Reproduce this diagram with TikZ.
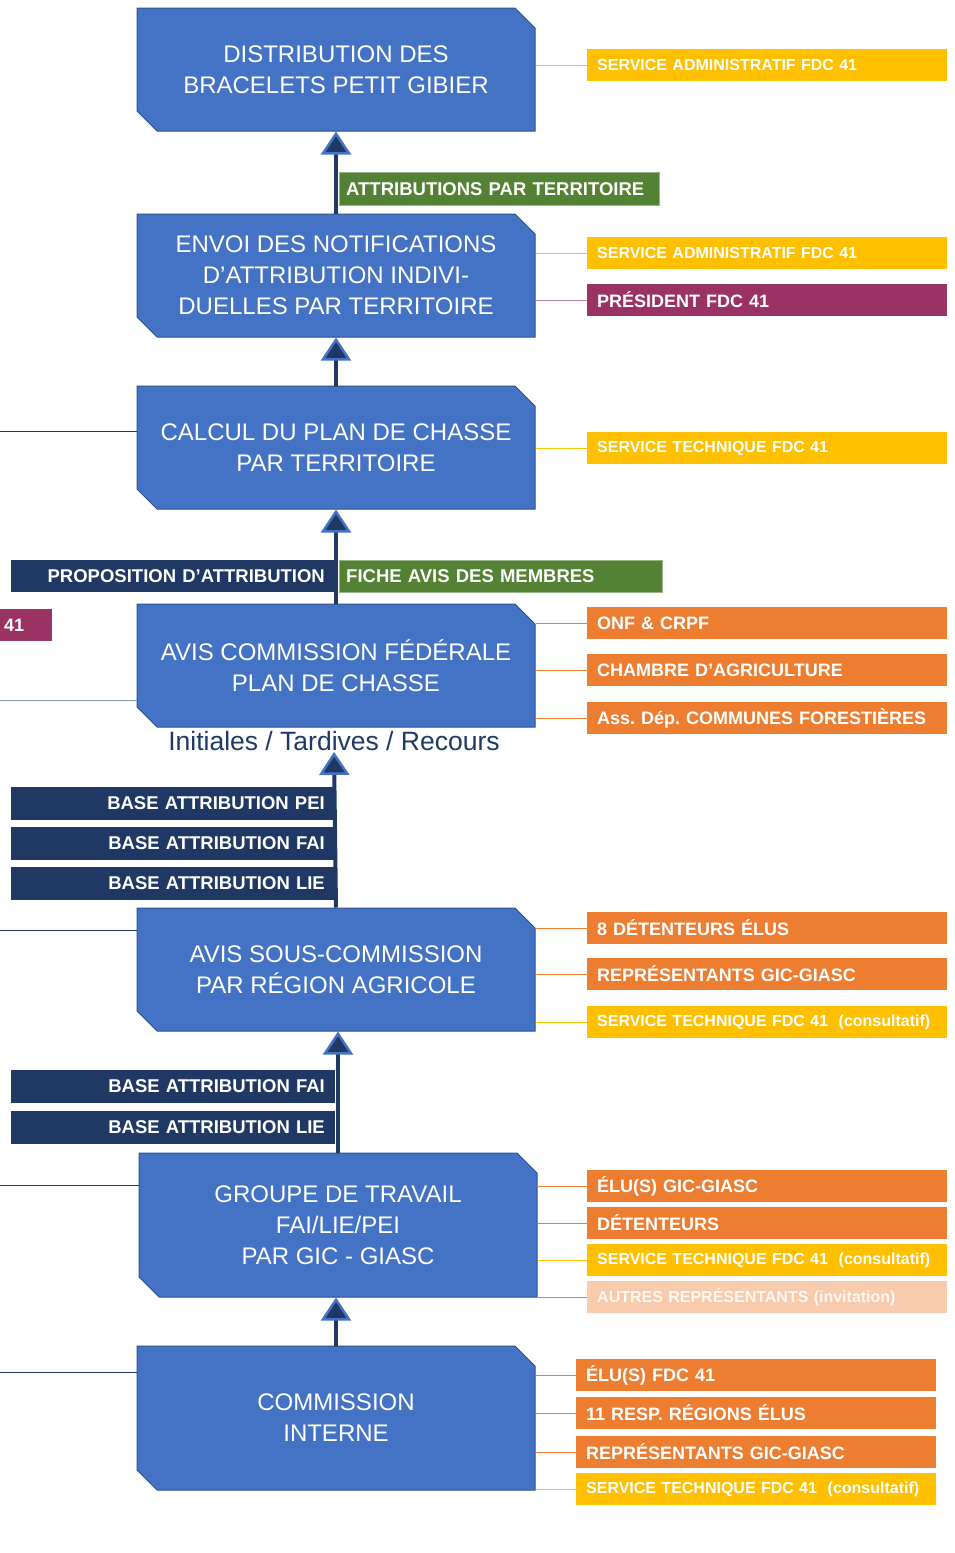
\documentclass[tikz,border=0pt]{standalone}
\usepackage{fontspec}
\setmainfont{Liberation Sans}
\usetikzlibrary{arrows.meta,shapes.misc,positioning}
\frenchspacing
\definecolor{boxblue}{HTML}{4472C4}
\definecolor{boxedge}{HTML}{2F528F}
\definecolor{navy}{HTML}{203864}
\definecolor{leafgreen}{HTML}{548235}
\definecolor{gold}{HTML}{FFC000}
\definecolor{carrot}{HTML}{ED7D31}
\definecolor{plum}{HTML}{9A3264}
\definecolor{peach}{HTML}{F8CBAD}
\definecolor{greyblue}{HTML}{8497B0}
\tikzset{
    stage/.style={
        chamfered rectangle,
        chamfered rectangle corners={north east,south west},
        chamfered rectangle xsep=10pt,
        chamfered rectangle ysep=10pt,
        fill=boxblue, draw=boxedge, line width=1pt,
        minimum width=398pt, minimum height=123pt,
        text=white, align=center,
        font=\fontsize{24}{31}\selectfont
    },
    role/.style={
        fill=#1, text=white, anchor=west,
        minimum height=32pt, text width=340pt,
        inner xsep=10pt, inner ysep=0pt, align=left,
        font=\fontsize{18}{20}\selectfont\bfseries
    },
    minorrole/.style={role=#1, font=\fontsize{16}{18}\selectfont\bfseries},
    tag/.style={
        fill=navy, text=white, anchor=east,
        minimum height=33pt, text width=304pt,
        inner xsep=10pt, inner ysep=0pt, align=right,
        font=\fontsize{18.5}{20}\selectfont\bfseries
    },
    greentag/.style={
        fill=leafgreen, draw=leafgreen!60, text=white, anchor=west,
        minimum height=33pt, text width=#1, inner xsep=7pt,
        inner ysep=0pt, align=left,
        font=\fontsize{18.5}{20}\selectfont\bfseries
    },
    flow/.style={
        draw=navy, line width=4pt,
        -{Triangle[width=30pt,length=23pt,color=boxblue,fill=navy,line width=2.5pt]}
    },
    link/.style={draw=#1, line width=1pt}
}
\begin{document}
\begin{tikzpicture}[x=1pt,y=-1pt]
\useasboundingbox (0,0) rectangle (954,1553);

% stages
\node[stage] (box1) at (336,69.5) {DISTRIBUTION DES\\BRACELETS PETIT GIBIER};
\node[stage] (box2) at (336,275.5) {ENVOI DES NOTIFICATIONS\\D'ATTRIBUTION\ INDIVI-\\DUELLES PAR TERRITOIRE};
\node[stage] (box3) at (336,447.5) {CALCUL DU PLAN DE CHASSE\\PAR TERRITOIRE};
\node[stage] (box4) at (336,665.5) {AVIS COMMISSION FÉDÉRALE\\PLAN DE CHASSE};
\node[stage] (box5) at (336,969.5) {AVIS SOUS-COMMISSION\\PAR RÉGION AGRICOLE};
\node[stage, minimum height=144pt] (box6) at (338,1225) {GROUPE DE TRAVAIL\\FAI/LIE/PEI\\PAR GIC - GIASC};
\node[stage, minimum height=144pt] (box7) at (336,1418) {COMMISSION\\INTERNE};
\node[text=navy, inner sep=1pt, font=\fontsize{26.5}{30}\selectfont] (recours) at (334,741) {Initiales / Tardives / Recours};

% tags along the flow
\node[greentag=306pt] (attr) at (339,189) {ATTRIBUTIONS PAR TERRITOIRE};
\node[tag, minimum height=32pt] (propo) at (335,576) {PROPOSITION D'ATTRIBUTION};
\node[greentag=309pt, minimum height=32pt] (fiche) at (339,576) {FICHE AVIS DES MEMBRES};
\node[tag] (pei1) at (335,803) {BASE ATTRIBUTION PEI};
\node[tag] (fai1) at (335,843) {BASE ATTRIBUTION FAI};
\node[tag] (lie1) at (335,883) {BASE ATTRIBUTION LIE};
\node[tag] (fai2) at (335,1086) {BASE ATTRIBUTION FAI};
\node[tag] (lie2) at (335,1127) {BASE ATTRIBUTION LIE};

% flow
\draw[flow] (box2.north) -- (box1.south);
\draw[flow] (box3.north) -- (box2.south);
\draw[flow] (box4.north) -- (box3.south);
\draw[flow] (box5.north) -- (recours.south);
\draw[flow] (box6.north) -- (box6.north |- box5.south);
\draw[flow] (box7.north) -- (box7.north |- box6.south);

% members
\node[minorrole=gold] (s1) at (587,65) {SERVICE ADMINISTRATIF FDC 41};
\node[minorrole=gold] (s2a) at (587,253) {SERVICE ADMINISTRATIF FDC 41};
\node[role=plum] (s2b) at (587,300) {PRÉSIDENT FDC 41};
\node[minorrole=gold] (s3) at (587,448) {SERVICE TECHNIQUE FDC 41};
\node[role=carrot] (s4a) at (587,623) {ONF \& CRPF};
\node[role=carrot] (s4b) at (587,670) {CHAMBRE D'AGRICULTURE};
\node[role=carrot] (s4c) at (587,718) {Ass. Dép. COMMUNES FORESTIÈRES};
\node[role=carrot] (s5a) at (587,928) {8 DÉTENTEURS ÉLUS};
\node[role=carrot] (s5b) at (587,974) {REPRÉSENTANTS GIC-GIASC};
\node[minorrole=gold] (s5c) at (587,1022) {SERVICE TECHNIQUE FDC 41~~(consultatif)};
\node[role=carrot] (s6a) at (587,1186) {ÉLU(S) GIC-GIASC};
\node[role=carrot] (s6b) at (587,1223) {DÉTENTEURS};
\node[minorrole=gold] (s6c) at (587,1260) {SERVICE TECHNIQUE FDC 41~~(consultatif)};
\node[minorrole=peach, text=white!85!peach] (s6d) at (587,1297) {AUTRES REPRÉSENTANTS (invitation)};
\node[role=carrot] (s7a) at (576,1375) {ÉLU(S) FDC 41};
\node[role=carrot] (s7b) at (576,1413) {11 RESP. RÉGIONS ÉLUS};
\node[role=carrot] (s7c) at (576,1452) {REPRÉSENTANTS GIC-GIASC};
\node[minorrole=gold] (s7d) at (576,1489) {SERVICE TECHNIQUE FDC 41~~(consultatif)};
\node[role=plum, text width=44pt, inner xsep=4pt] (cut) at (0,625) {41};

\foreach \b/\s/\c in {box1/s1/gold, box2/s2a/gold, box2/s2b/plum!60, box3/s3/gold,
    box4/s4a/carrot, box4/s4b/carrot, box4/s4c/carrot,
    box5/s5a/carrot, box5/s5b/carrot, box5/s5c/gold,
    box6/s6a/carrot, box6/s6b/carrot, box6/s6c/gold, box6/s6d/carrot,
    box7/s7a/carrot, box7/s7b/carrot, box7/s7c/carrot, box7/s7d/gold}
    \draw[link=\c] (\s.west) -- (\s.west -| \b.east);

% lines leaving to the left
\coordinate (e3) at (0,431);
\coordinate (e4) at (0,700);
\coordinate (e5) at (0,930);
\coordinate (e6) at (0,1185);
\coordinate (e7) at (0,1372);
\draw[link=navy] (e3) -- (e3 -| box3.west);
\draw[link=greyblue] (e4) -- (e4 -| box4.west);
\draw[link=navy] (e5) -- (e5 -| box5.west);
\draw[link=navy] (e6) -- (e6 -| box6.west);
\draw[link=navy] (e7) -- (e7 -| box7.west);
\end{tikzpicture}
\end{document}
